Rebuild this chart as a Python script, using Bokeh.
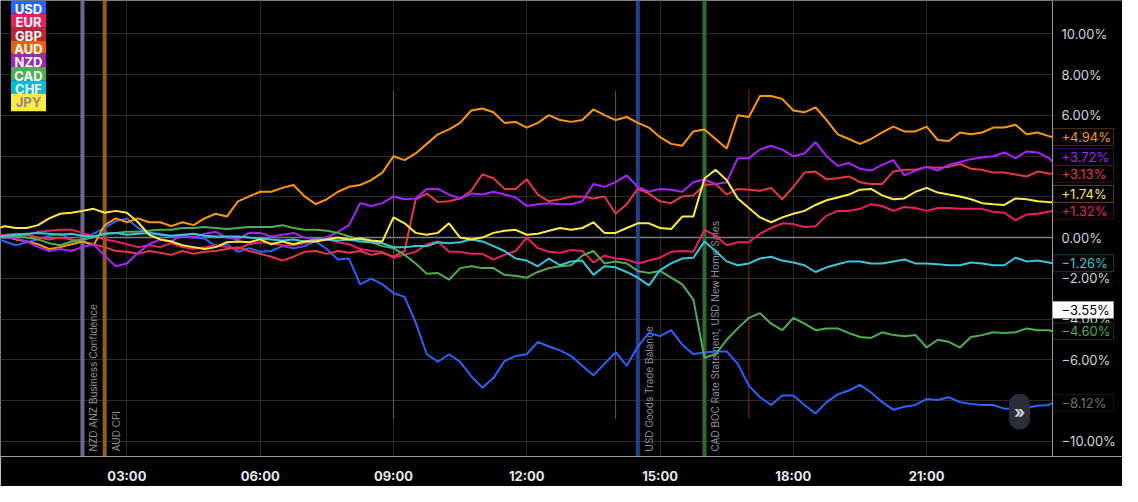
import pandas as pd
from bokeh.plotting import figure
from bokeh.models import (Range1d, FixedTicker, DatetimeTickFormatter, Span, Label,
                          BoxAnnotation, ColumnDataSource)
from bokeh.embed import file_html
from bokeh.resources import INLINE

# ---------------- data (percent change since session start) ----------------
DAY = "2024-01-24"
times = list(pd.date_range(DAY + " 00:00", periods=96, freq="15min")) + [pd.Timestamp(DAY + " 23:50")]

currencies = ["USD", "EUR", "GBP", "AUD", "NZD", "CAD", "CHF", "JPY"]

USD = [0.00, -0.19, -0.38, -0.23, -0.09, 0.09, 0.19, -0.09, -0.19, 0.19,
       0.47, 0.80, 0.94, 0.47, 0.23, 0.19, 0.05, 0.05, 0.00, -0.05,
       -0.42, -0.33, -0.70, -0.52, -0.70, -0.66, -0.42, -0.52, -0.42, -0.19,
       -0.56, -1.08, -1.03, -2.30, -2.02, -2.30, -2.72, -2.91, -4.18, -5.73,
       -6.10, -5.73, -6.10, -6.81, -7.37, -6.90, -6.06, -5.82, -5.73, -5.12,
       -5.35, -5.54, -5.82, -6.29, -6.76, -6.20, -5.63, -6.29, -5.35, -4.69,
       -4.84, -4.55, -5.26, -5.73, -5.63, -5.59, -5.59, -6.20, -7.28, -7.84,
       -8.22, -7.75, -7.75, -8.22, -8.64, -8.08, -7.70, -7.51, -7.23, -7.61,
       -8.08, -8.45, -8.31, -8.22, -7.93, -7.98, -7.84, -8.08, -8.17, -8.22,
       -8.22, -8.40, -8.40, -8.36, -8.26, -8.22, -8.12]
EUR = [0.05, 0.14, 0.19, 0.14, 0.28, 0.33, 0.38, 0.38, 0.23, 0.05,
       -0.09, -0.19, -0.33, -0.47, -0.38, -0.47, -0.28, -0.47, -0.56, -0.47,
       -0.38, -0.47, -0.56, -0.33, -0.23, -0.28, -0.38, -0.38, -0.28, -0.14,
       -0.09, -0.23, -0.33, -0.56, -0.66, -0.70, -0.99, -0.85, -0.70, -0.33,
       -0.19, -0.70, -0.70, -0.80, -0.80, -1.08, -0.85, -0.66, 0.00, -0.52,
       -0.70, -0.75, -0.61, -0.66, -1.22, -0.89, -1.03, -1.08, -1.27, -1.13,
       -0.99, -0.70, -0.66, -0.70, 0.38, 0.09, -0.38, -0.23, -0.23, 0.19,
       0.47, 0.70, 0.66, 0.52, 0.56, 1.08, 1.31, 1.31, 1.41, 1.64,
       1.55, 1.31, 1.50, 1.45, 1.31, 1.45, 1.45, 1.41, 1.41, 1.41,
       1.27, 1.22, 0.85, 1.13, 1.17, 1.27, 1.32]
GBP = [0.00, 0.09, 0.05, 0.14, 0.00, -0.09, 0.00, -0.09, -0.19, -0.33,
       -0.47, -0.66, -0.70, -0.80, -0.66, -0.75, -0.85, -0.66, -0.80, -0.70,
       -0.66, -0.56, -0.47, -0.66, -0.80, -0.94, -1.13, -0.94, -0.70, -0.66,
       -0.80, -0.66, -0.75, -0.66, -0.85, -0.75, -0.94, -0.66, 1.88, 2.16,
       1.74, 1.78, 1.92, 2.30, 3.10, 2.91, 2.39, 2.39, 2.86, 2.11,
       1.78, 1.88, 2.02, 2.02, 1.92, 2.02, 1.17, 1.64, 2.39, 2.16,
       1.78, 1.69, 2.02, 2.07, 2.58, 2.63, 2.11, 2.39, 2.35, 2.30,
       2.44, 1.88, 2.49, 3.19, 3.24, 2.86, 2.91, 3.00, 2.72, 2.63,
       2.63, 3.24, 3.33, 3.33, 3.47, 3.43, 3.47, 3.61, 3.38, 3.33,
       3.19, 3.19, 3.10, 3.00, 3.24, 3.15, 3.13]
AUD = [0.09, 0.05, -0.09, -0.19, -0.33, -0.56, -0.47, -0.33, -0.19, -0.38,
       0.61, 0.94, 0.75, 0.94, 0.75, 0.75, 0.56, 0.75, 0.61, 0.94,
       1.17, 1.03, 1.78, 2.02, 2.25, 2.25, 2.44, 2.58, 2.02, 1.64,
       1.88, 2.25, 2.49, 2.58, 2.82, 3.19, 3.99, 3.80, 4.13, 4.60,
       5.07, 5.31, 5.63, 6.24, 6.34, 6.15, 5.63, 5.68, 5.40, 5.63,
       6.01, 5.77, 5.68, 5.77, 6.29, 6.01, 5.77, 5.92, 5.63, 5.40,
       4.93, 4.60, 4.51, 5.21, 5.31, 4.84, 4.37, 6.01, 5.92, 6.95,
       6.95, 6.81, 6.24, 6.15, 6.39, 5.77, 5.07, 4.84, 4.60, 4.84,
       5.16, 5.45, 5.21, 5.21, 5.45, 4.79, 4.74, 5.16, 5.07, 5.16,
       5.40, 5.40, 5.54, 5.07, 5.16, 4.98, 4.94]
NZD = [0.05, 0.00, -0.05, -0.19, -0.47, -0.66, -0.56, -0.66, -0.47, -0.33,
       -0.90, -1.41, -1.27, -0.75, -0.33, -0.09, -0.19, 0.14, 0.00, 0.19,
       0.28, 0.00, -0.09, 0.23, 0.23, 0.05, 0.14, 0.23, 0.00, -0.09,
       0.00, 0.28, 0.61, 1.69, 1.55, 1.69, 2.02, 1.88, 1.92, 2.39,
       2.39, 2.11, 1.92, 2.16, 2.11, 2.25, 2.11, 1.97, 1.55, 1.64,
       1.69, 1.64, 1.64, 1.78, 2.63, 2.49, 2.72, 3.05, 2.49, 2.25,
       2.39, 2.35, 2.25, 2.72, 2.86, 2.63, 2.72, 3.90, 3.90, 4.32,
       4.51, 4.32, 3.99, 4.13, 4.69, 3.99, 3.52, 3.66, 3.38, 3.29,
       3.57, 3.80, 3.05, 3.29, 3.47, 3.29, 3.57, 3.71, 3.85, 3.94,
       3.99, 4.18, 3.90, 4.23, 4.18, 3.90, 3.72]
CAD = [0.05, 0.00, 0.05, 0.00, -0.09, -0.28, -0.38, -0.19, -0.09, 0.00,
       0.19, 0.23, 0.28, 0.28, 0.33, 0.38, 0.38, 0.47, 0.47, 0.52,
       0.47, 0.42, 0.47, 0.52, 0.52, 0.52, 0.61, 0.47, 0.38, 0.38,
       0.33, 0.23, 0.05, -0.09, -0.23, -0.42, -0.52, -0.85, -1.27, -1.78,
       -1.74, -2.07, -1.50, -1.41, -1.50, -1.50, -1.83, -1.88, -1.97, -1.69,
       -1.50, -1.41, -1.36, -0.89, -0.66, -1.27, -1.17, -1.27, -1.64, -1.74,
       -1.64, -1.97, -2.30, -3.05, -5.90, -5.73, -5.02, -4.46, -3.94, -3.71,
       -4.23, -4.55, -3.94, -4.23, -4.55, -4.46, -4.46, -4.69, -4.88, -4.93,
       -4.65, -4.79, -4.84, -4.79, -5.40, -5.02, -5.12, -5.40, -4.88, -4.79,
       -4.65, -4.69, -4.65, -4.46, -4.55, -4.55, -4.60]
CHF = [0.00, 0.09, 0.14, 0.19, 0.23, 0.19, 0.14, 0.19, 0.09, 0.05,
       0.19, 0.23, 0.14, 0.19, 0.23, 0.14, 0.09, 0.14, 0.19, 0.09,
       0.05, 0.05, 0.05, 0.00, -0.05, -0.09, -0.14, -0.09, -0.19, -0.09,
       -0.09, -0.14, -0.09, -0.19, -0.23, -0.28, -0.47, -0.47, -0.42, -0.42,
       -0.23, -0.28, -0.23, -0.09, -0.19, -0.42, -0.66, -1.03, -1.13, -1.41,
       -1.03, -1.36, -1.17, -1.13, -1.83, -1.41, -1.46, -1.69, -1.97, -2.35,
       -1.60, -1.27, -1.03, -0.99, -0.19, -0.66, -1.17, -1.36, -1.27, -1.03,
       -0.94, -1.13, -1.22, -1.36, -1.69, -1.46, -1.31, -1.17, -1.17, -1.27,
       -1.27, -1.17, -1.08, -1.27, -1.27, -1.31, -1.36, -1.36, -1.22, -1.27,
       -1.36, -1.36, -0.99, -1.17, -1.13, -1.22, -1.26]
JPY = [0.38, 0.56, 0.47, 0.47, 0.61, 0.94, 1.17, 1.22, 1.31, 1.41,
       1.22, 1.31, 1.22, 0.75, 0.14, -0.09, -0.19, -0.38, -0.47, -0.56,
       -0.47, -0.23, -0.19, -0.23, -0.09, -0.33, -0.19, -0.33, -0.19, -0.19,
       -0.09, 0.00, -0.09, -0.05, -0.14, -0.19, 0.99, 0.70, 0.23, 0.14,
       0.23, 0.70, 0.00, -0.09, 0.00, 0.23, 0.33, 0.38, 0.14, 0.19,
       0.33, 0.47, 0.38, 0.47, 0.75, 0.23, 0.23, 0.47, 0.70, 0.70,
       0.47, 0.42, 1.03, 1.03, 2.90, 3.33, 2.82, 1.92, 1.45, 0.99,
       0.75, 0.99, 1.17, 1.31, 1.60, 1.83, 1.97, 2.11, 2.35, 2.39,
       2.07, 1.88, 1.92, 2.25, 2.44, 2.21, 2.11, 2.02, 1.88, 1.69,
       1.64, 1.60, 1.92, 1.88, 1.78, 1.74, 1.74]

series = {"USD": USD, "EUR": EUR, "GBP": GBP, "AUD": AUD,
          "NZD": NZD, "CAD": CAD, "CHF": CHF, "JPY": JPY}

line_colors = {"USD": "#2962FF", "EUR": "#E91E63", "GBP": "#E8383D", "AUD": "#FF9800",
               "NZD": "#AA22FF", "CAD": "#4CAF50", "CHF": "#38C6D9", "JPY": "#FFEB3B"}
legend_colors = {"USD": "#2962FF", "EUR": "#E91E63", "GBP": "#B3283A", "AUD": "#E8620C",
                 "NZD": "#9C27B0", "CAD": "#4CAF50", "CHF": "#00BCD4", "JPY": "#FFEB3B"}

event_names = ["NZD ANZ Business Confidence", "AUD CPI", "USD Goods Trade Balance",
               "CAD BOC Rate Statement, USD New Home Sales"]
event_times = ["02:00", "02:30", "14:30", "16:00"]
event_colors = ["#6C6790", "#93600F", "#22408E", "#2F6A31"]

marker_times = ["09:00", "14:00", "17:00"]
marker_top = [7.2, 7.2, 7.3]
marker_bottom = [-8.9, -8.9, -8.9]
marker_colors = ["#5E5E5E", "#5E5E5E", "#8B1E1E"]

crosshair_value = -3.55
y_ticks = [-10, -8, -6, -4, -2, 0, 2, 4, 6, 8, 10]
x_tick_times = ["03:00", "06:00", "09:00", "12:00", "15:00", "18:00", "21:00"]

FONT = "Inter"

# ---------------- helpers ----------------
def ms(hhmm):
    return pd.Timestamp(DAY + " " + hhmm).value / 1e6

def fmt_pct(v, sign=True):
    s = f"{v:+.2f}%" if sign else f"{v:.2f}%"
    return s.replace("-", "\u2212")

# ---------------- layout ----------------
W, H = 1122, 486          # whole figure
BB = 25                   # bottom time-axis band
FH = H - BB               # frame height
SCALE_W = 70              # price-scale band (drawn inside the frame)
DW = W - SCALE_W          # width of the plotting area proper
Y0, Y1 = -10.75, 11.64
PX_PER_UNIT = FH / (Y1 - Y0)

x_start = ms("00:09:20")
data_end = ms("23:50")
x_end = data_end + (data_end - x_start) * SCALE_W / DW

p = figure(width=W, height=H, x_axis_type="datetime",
           x_range=Range1d(x_start, x_end), y_range=Range1d(Y0, Y1),
           output_backend="svg", toolbar_location=None,
           background_fill_color="#000000", border_fill_color="#000000",
           min_border_left=0, min_border_top=0, min_border_right=0, min_border_bottom=BB)
p.outline_line_color = None
p.yaxis.visible = False

# grid
p.xgrid.ticker = FixedTicker(ticks=[ms(t) for t in x_tick_times])
p.ygrid.ticker = FixedTicker(ticks=y_ticks)
for g in (p.xgrid, p.ygrid):
    g.grid_line_color = "#2A2A2A"
    g.grid_line_width = 1

# time axis
xa = p.xaxis[0]
xa.ticker = FixedTicker(ticks=[ms(t) for t in x_tick_times])
xa.formatter = DatetimeTickFormatter(hours="%H:%M", hourmin="%H:%M", minutes="%H:%M",
                                     days="%H:%M", months="%H:%M", years="%H:%M")
xa.axis_line_color = "#9A9A9A"
xa.major_tick_line_color = None
xa.minor_tick_line_color = None
xa.major_label_text_color = "#E6E8EE"
xa.major_label_text_font = FONT
xa.major_label_text_font_size = "13px"
xa.major_label_text_font_style = "bold"
xa.major_label_standoff = 5

# zero line
p.add_layout(Span(location=0, dimension="width", line_color="#7A7D86",
                  line_width=1.5, level="underlay"))

# event lines + their vertical captions
for name, t, c in zip(event_names, event_times, event_colors):
    p.add_layout(Span(location=ms(t), dimension="height", line_color=c,
                      line_width=4, level="underlay"))
    p.add_layout(Label(x=ms(t), y=5, x_units="data", y_units="screen", x_offset=5,
                       text=name, angle=1.5707963, text_align="left", text_baseline="top",
                       text_color="#8E9099", text_font=FONT,
                       text_font_size="10px", level="underlay"))

# price-scale band: blank background + its border line
p.add_layout(BoxAnnotation(left=data_end, fill_color="#000000", fill_alpha=1.0,
                           line_alpha=0, level="underlay"))
p.add_layout(Span(location=data_end, dimension="height", line_color="#9A9A9A",
                  line_width=1))

# price-scale tick labels
for t in y_ticks:
    p.add_layout(Label(x=DW + 9, y=t, x_units="screen", y_units="data",
                       text=fmt_pct(t, sign=False), text_align="left",
                       text_baseline="middle", text_color="#D1D4DC",
                       text_font=FONT, text_font_size="13px"))

# thin marker lines
msrc = ColumnDataSource(dict(x=[pd.Timestamp(DAY + " " + t) for t in marker_times],
                             y0=marker_top, y1=marker_bottom, c=marker_colors))
p.segment(x0="x", y0="y0", x1="x", y1="y1", color="c", line_width=1, source=msrc)

# series
src = ColumnDataSource(dict(t=times, **series))
for cur in currencies:
    p.line(x="t", y=cur, source=src, line_color=line_colors[cur], line_width=2)

# legend boxes (top-left): boxes first, then all captions on top
LEG_STEP = 13.3
for i, cur in enumerate(currencies):
    top = 5 + LEG_STEP * i
    height = 17.7 if i == len(currencies) - 1 else LEG_STEP
    p.add_layout(BoxAnnotation(left=10.5, right=45.5, top=FH - top, bottom=FH - top - height,
                               left_units="screen", right_units="screen",
                               top_units="screen", bottom_units="screen",
                               fill_color=legend_colors[cur], fill_alpha=1.0,
                               line_alpha=0, level="annotation"))
for i, cur in enumerate(currencies):
    top = 5 + LEG_STEP * i
    p.add_layout(Label(x=28, y=FH - top - 8.5, x_units="screen", y_units="screen",
                       text=cur, text_align="center", text_baseline="middle",
                       text_color="#8A8A8A" if cur == "JPY" else "#FFFFFF",
                       text_font=FONT, text_font_size="13px", text_font_style="bold"))

# last-value tags on the price scale (shifted apart so they do not overlap)
tags = []
for cur in currencies:
    v = series[cur][-1]
    col = line_colors[cur]
    if cur == "USD":
        tags.append((v, fmt_pct(v), "#6E6E6E", "#454545", "#000000"))
    else:
        tags.append((v, fmt_pct(v), col, col, "#000000"))
tags.append((crosshair_value, fmt_pct(crosshair_value, sign=False), "#000000", "#FFFFFF", "#FFFFFF"))
tags.sort(key=lambda r: r[0])
half = 8.5 / PX_PER_UNIT
gap = 2 * half
placed = []
for v, txt, tc, bc, bg in tags:
    pos = v
    if placed and pos < placed[-1] + gap:
        pos = placed[-1] + gap
    placed.append(pos)
    p.add_layout(BoxAnnotation(left=DW + 0.5, right=DW + 61, top=pos + half, bottom=pos - half,
                               left_units="screen", right_units="screen",
                               fill_color=bg, fill_alpha=1.0, line_color=bc, line_width=1,
                               level="annotation"))
    p.add_layout(Label(x=DW + 9, y=pos, x_units="screen", y_units="data", text=txt,
                       text_align="left", text_baseline="middle", text_color=tc,
                       text_font=FONT, text_font_size="13px"))

# scroll-to-realtime button
p.add_layout(Label(x=DW - 33, y=45, x_units="screen", y_units="screen", text="\u00bb",
                   text_align="center", text_baseline="middle", text_color="#D1D4DC",
                   text_font=FONT, text_font_size="17px", text_font_style="bold",
                   background_fill_color="#2A2E39", padding=(5, 8), border_radius=14))

open("out.html", "w").write(file_html(p, INLINE))
